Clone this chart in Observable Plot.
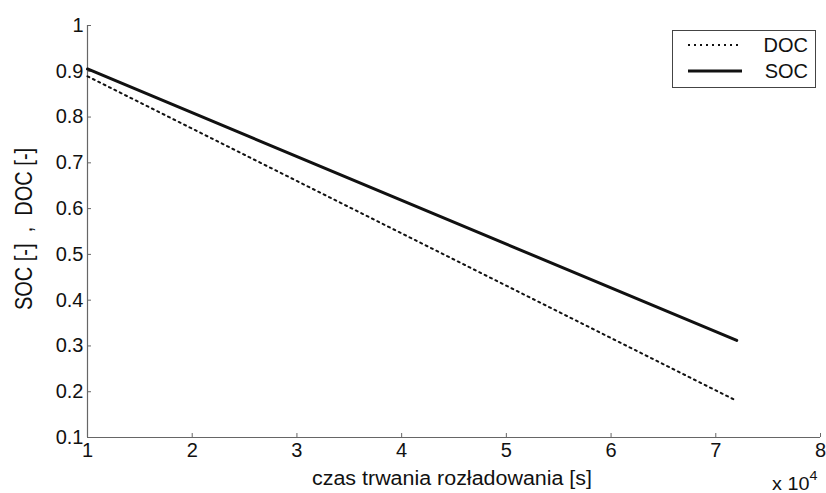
<!DOCTYPE html>
<html>
<head>
<meta charset="utf-8">
<script src="https://cdn.jsdelivr.net/npm/d3@7"></script>
<script src="https://cdn.jsdelivr.net/npm/@observablehq/plot@0.6"></script>
<style>
  html, body { margin: 0; padding: 0; background: #fff; }
  #chart { position: relative; width: 826px; height: 493px; font-family: "Liberation Sans", Arial, sans-serif; }
</style>
</head>
<body>
<div id="chart"></div>
<script>
const time = [1, 7.2];              // x 10^4 s
const soc  = [0.905, 0.312];
const doc  = [0.889, 0.180];
const xTicks = [1, 2, 3, 4, 5, 6, 7, 8];
const yTicks = [0.1, 0.2, 0.3, 0.4, 0.5, 0.6, 0.7, 0.8, 0.9, 1];
const seriesNames = ["DOC", "SOC"];

const socData = time.map((t, i) => ({t, v: soc[i]}));
const docData = time.map((t, i) => ({t, v: doc[i]}));

const plot = Plot.plot({
  width: 826,
  height: 493,
  marginLeft: 87,
  marginRight: 6,
  marginTop: 25,
  marginBottom: 56,
  style: {fontFamily: '"Liberation Sans", Arial, sans-serif', background: "#fff", color: "#111"},
  x: {domain: [1, 8]},
  y: {domain: [0.1, 1]},
  marks: [
    Plot.axisX({ticks: xTicks, tickSize: -4, tickPadding: 9, fontSize: 20, tickFormat: d => String(d), label: null, stroke: "#666", fill: "#111"}),
    Plot.axisY({ticks: yTicks, tickSize: -4, tickPadding: 8, fontSize: 20, tickFormat: d => String(+d.toFixed(1)), label: null, stroke: "#666", fill: "#111"}),
    Plot.ruleX([1], {stroke: "#666", strokeWidth: 1.2}),
    Plot.ruleY([0.1], {stroke: "#666", strokeWidth: 1.2}),
    Plot.line(docData, {x: "t", y: "v", stroke: "#111", strokeWidth: 2, strokeDasharray: "2,4"}),
    Plot.line(socData, {x: "t", y: "v", stroke: "#111", strokeWidth: 3})
  ]
});
document.getElementById("chart").appendChild(plot);

const svg = d3.select(plot);

// axis titles
svg.append("text")
  .attr("x", 452).attr("y", 485)
  .attr("text-anchor", "middle")
  .style("font-size", "20px").attr("fill", "#111")
  .attr("textLength", 280).attr("lengthAdjust", "spacingAndGlyphs")
  .text("czas trwania rozładowania [s]");
const p = svg.append("text")
  .attr("transform", "translate(772,490) scale(1.1,1)")
  .attr("text-anchor", "start")
  .style("font-size", "18px").attr("fill", "#111");
p.append("tspan").text("x 10");
p.append("tspan").style("font-size", "13px").attr("dy", -10).text("4");
svg.append("text")
  .attr("transform", "translate(32,229) scale(1.15,1) rotate(-90)")
  .attr("text-anchor", "middle")
  .style("font-size", "20px").attr("fill", "#111")
  .text("SOC [-]  ,  DOC [-]");

// legend
const lg = svg.append("g");
lg.append("rect").attr("x", 672.5).attr("y", 30.5).attr("width", 143).attr("height", 57)
  .attr("fill", "#fff").attr("stroke", "#444").attr("stroke-width", 1);
const dashes = ["2,4", null];
const widths = [2, 3];
seriesNames.forEach((name, i) => {
  const y = 45 + i * 26;
  const l = lg.append("line").attr("x1", 688).attr("x2", 742).attr("y1", y).attr("y2", y)
    .attr("stroke", "#111").attr("stroke-width", widths[i]);
  if (dashes[i]) l.attr("stroke-dasharray", dashes[i]);
  lg.append("text").attr("x", 808).attr("y", y + 7).attr("text-anchor", "end")
    .style("font-size", "20px").attr("fill", "#111").text(name);
});
</script>
</body>
</html>
